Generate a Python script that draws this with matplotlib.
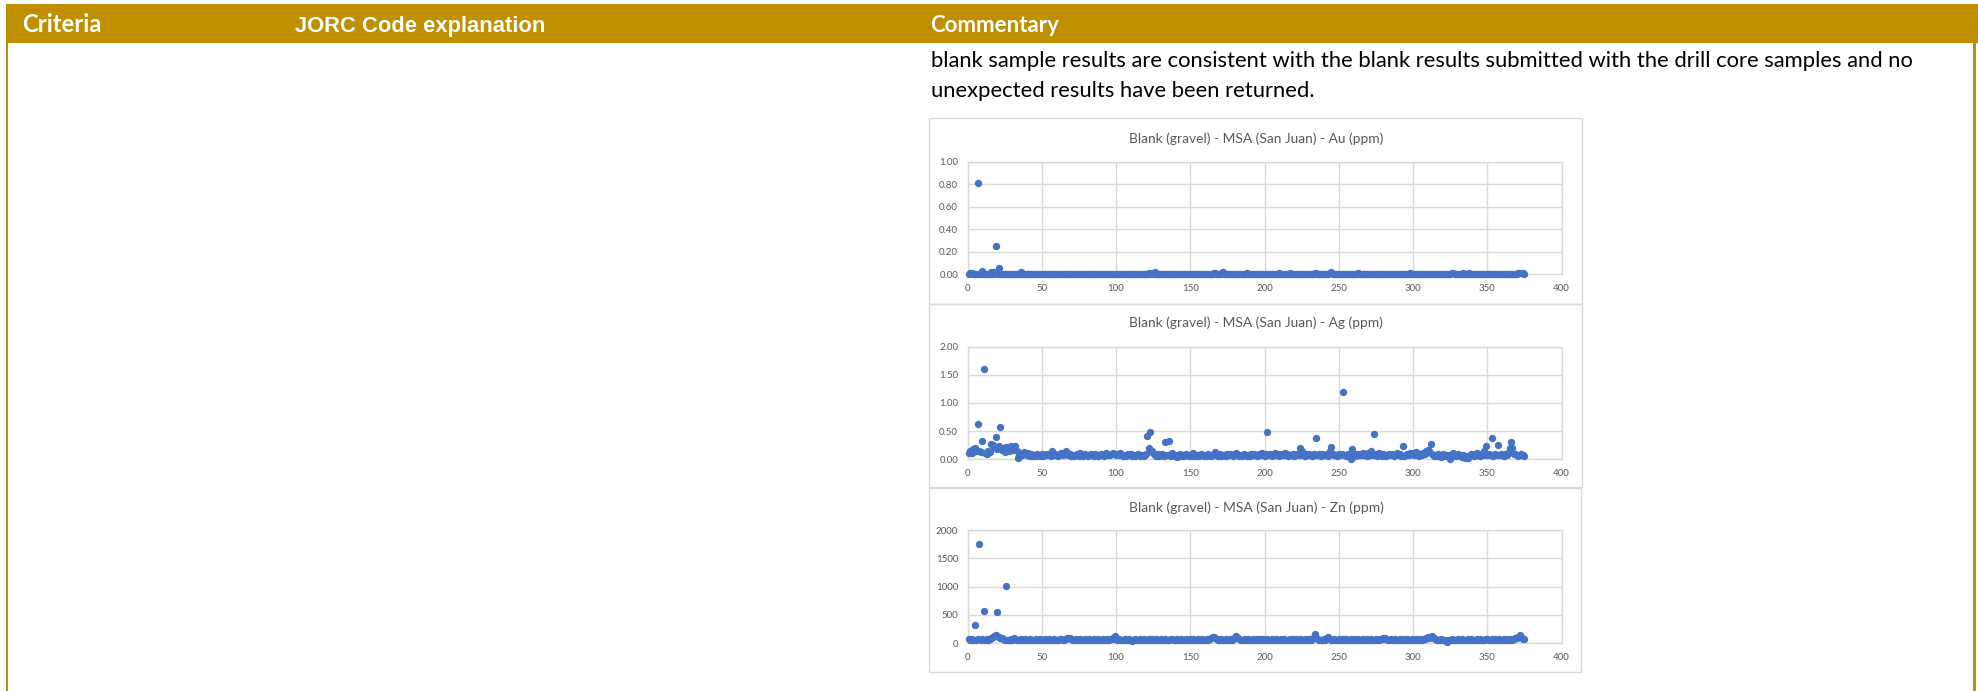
import matplotlib
matplotlib.use("Agg")
import matplotlib.pyplot as plt
from matplotlib.patches import Rectangle

# ---------------- data ----------------
header_labels = ["Criteria", "JORC Code explanation", "Commentary"]
body_lines = [
    "blank sample results are consistent with the blank results submitted with the drill core samples and no",
    "unexpected results have been returned.",
]
chart_titles = [
    "Blank (gravel) - MSA (San Juan) - Au (ppm)",
    "Blank (gravel) - MSA (San Juan) - Ag (ppm)",
    "Blank (gravel) - MSA (San Juan) - Zn (ppm)",
]
x_ticks = [0, 50, 100, 150, 200, 250, 300, 350, 400]
au_ticks = [0.0, 0.2, 0.4, 0.6, 0.8, 1.0]
au_tick_labels = ["0.00", "0.20", "0.40", "0.60", "0.80", "1.00"]
ag_ticks = [0.0, 0.5, 1.0, 1.5, 2.0]
ag_tick_labels = ["0.00", "0.50", "1.00", "1.50", "2.00"]
zn_ticks = [0, 500, 1000, 1500, 2000]
zn_tick_labels = ["0", "500", "1000", "1500", "2000"]

sample_no = list(range(1, 376))

au_ppm = [
    0.005, 0.01, 0.008, 0.006, 0.003, 0.005, 0.81, 0.004, 0.005, 0.03, 0.004, 0.003, 0.005, 0.004, 0.006, 0.02, 0.005, 0.02, 0.25, 0.005, 0.06, 0.004, 0.003, 0.005, 0.004,
    0.003, 0.005, 0.004, 0.003, 0.005, 0.004, 0.003, 0.005, 0.004, 0.006, 0.02, 0.004, 0.003, 0.005, 0.003, 0.004, 0.005, 0.003, 0.004, 0.005, 0.003, 0.004, 0.003, 0.005, 0.004,
    0.003, 0.004, 0.005, 0.003, 0.004, 0.003, 0.005, 0.004, 0.003, 0.005, 0.004, 0.003, 0.004, 0.005, 0.003, 0.004, 0.003, 0.005, 0.004, 0.003, 0.005, 0.003, 0.004, 0.003, 0.005,
    0.004, 0.003, 0.005, 0.004, 0.003, 0.004, 0.005, 0.003, 0.004, 0.003, 0.005, 0.004, 0.003, 0.005, 0.004, 0.003, 0.004, 0.003, 0.005, 0.004, 0.003, 0.005, 0.003, 0.004, 0.005,
    0.003, 0.004, 0.005, 0.003, 0.004, 0.003, 0.005, 0.004, 0.003, 0.004, 0.005, 0.003, 0.004, 0.003, 0.005, 0.004, 0.003, 0.005, 0.004, 0.003, 0.006, 0.008, 0.005, 0.012, 0.006,
    0.02, 0.005, 0.004, 0.003, 0.005, 0.004, 0.003, 0.004, 0.005, 0.003, 0.004, 0.003, 0.005, 0.004, 0.003, 0.005, 0.004, 0.003, 0.004, 0.005, 0.003, 0.004, 0.003, 0.005, 0.004,
    0.003, 0.005, 0.004, 0.003, 0.004, 0.005, 0.003, 0.004, 0.003, 0.005, 0.004, 0.003, 0.005, 0.004, 0.006, 0.008, 0.015, 0.005, 0.004, 0.006, 0.008, 0.02, 0.005, 0.004, 0.003,
    0.004, 0.005, 0.003, 0.004, 0.003, 0.005, 0.004, 0.003, 0.005, 0.004, 0.003, 0.006, 0.01, 0.004, 0.003, 0.005, 0.004, 0.003, 0.004, 0.005, 0.003, 0.004, 0.003, 0.005, 0.004,
    0.003, 0.005, 0.004, 0.003, 0.004, 0.005, 0.003, 0.004, 0.006, 0.009, 0.004, 0.003, 0.005, 0.004, 0.003, 0.006, 0.008, 0.004, 0.003, 0.005, 0.004, 0.003, 0.004, 0.005, 0.003,
    0.004, 0.003, 0.005, 0.004, 0.003, 0.005, 0.004, 0.006, 0.008, 0.012, 0.005, 0.004, 0.003, 0.005, 0.004, 0.003, 0.004, 0.006, 0.01, 0.022, 0.006, 0.004, 0.003, 0.005, 0.004,
    0.003, 0.005, 0.004, 0.003, 0.004, 0.005, 0.003, 0.004, 0.003, 0.005, 0.004, 0.006, 0.012, 0.004, 0.003, 0.005, 0.004, 0.003, 0.004, 0.005, 0.003, 0.004, 0.003, 0.005, 0.004,
    0.003, 0.005, 0.004, 0.003, 0.004, 0.005, 0.003, 0.004, 0.003, 0.005, 0.004, 0.003, 0.005, 0.004, 0.003, 0.004, 0.005, 0.003, 0.004, 0.003, 0.005, 0.006, 0.012, 0.004, 0.003,
    0.005, 0.004, 0.003, 0.004, 0.005, 0.003, 0.004, 0.003, 0.005, 0.004, 0.003, 0.005, 0.004, 0.003, 0.004, 0.005, 0.003, 0.004, 0.003, 0.005, 0.004, 0.003, 0.005, 0.004, 0.006,
    0.008, 0.012, 0.005, 0.004, 0.003, 0.005, 0.004, 0.006, 0.012, 0.005, 0.004, 0.006, 0.012, 0.005, 0.004, 0.003, 0.005, 0.004, 0.003, 0.004, 0.005, 0.003, 0.004, 0.003, 0.005,
    0.004, 0.003, 0.005, 0.004, 0.003, 0.004, 0.005, 0.003, 0.004, 0.003, 0.005, 0.004, 0.003, 0.005, 0.004, 0.003, 0.004, 0.005, 0.003, 0.006, 0.008, 0.01, 0.012, 0.008, 0.006,
]

ag_ppm = [
    0.12, 0.15, 0.11, 0.18, 0.20, 0.14, 0.63, 0.15, 0.13, 0.33, 1.60, 0.12, 0.10, 0.14, 0.13, 0.27, 0.26, 0.22, 0.40, 0.18, 0.24, 0.57, 0.16, 0.20, 0.13,
    0.22, 0.18, 0.15, 0.24, 0.17, 0.20, 0.23, 0.14, 0.03, 0.05, 0.10, 0.08, 0.13, 0.11, 0.07, 0.12, 0.06, 0.09, 0.05, 0.08, 0.06, 0.10, 0.07, 0.05, 0.09,
    0.06, 0.08, 0.10, 0.07, 0.09, 0.06, 0.15, 0.08, 0.10, 0.07, 0.05, 0.09, 0.11, 0.08, 0.12, 0.14, 0.10, 0.07, 0.09, 0.06, 0.08, 0.05, 0.07, 0.09, 0.06,
    0.12, 0.08, 0.06, 0.09, 0.07, 0.05, 0.08, 0.10, 0.07, 0.06, 0.09, 0.08, 0.05, 0.07, 0.10, 0.08, 0.06, 0.11, 0.09, 0.07, 0.08, 0.10, 0.12, 0.09, 0.07,
    0.10, 0.08, 0.12, 0.07, 0.06, 0.08, 0.05, 0.09, 0.07, 0.10, 0.06, 0.08, 0.05, 0.07, 0.09, 0.06, 0.08, 0.07, 0.05, 0.09, 0.42, 0.20, 0.49, 0.15, 0.12,
    0.08, 0.06, 0.09, 0.05, 0.07, 0.10, 0.06, 0.30, 0.08, 0.07, 0.33, 0.05, 0.12, 0.08, 0.06, 0.04, 0.07, 0.09, 0.05, 0.08, 0.06, 0.10, 0.07, 0.05, 0.08,
    0.06, 0.11, 0.07, 0.05, 0.08, 0.06, 0.09, 0.07, 0.05, 0.08, 0.06, 0.09, 0.07, 0.05, 0.08, 0.10, 0.13, 0.07, 0.06, 0.09, 0.05, 0.08, 0.07, 0.06, 0.09,
    0.07, 0.10, 0.08, 0.06, 0.09, 0.11, 0.07, 0.05, 0.08, 0.06, 0.09, 0.07, 0.05, 0.08, 0.06, 0.09, 0.07, 0.10, 0.08, 0.06, 0.09, 0.07, 0.11, 0.08, 0.06,
    0.09, 0.48, 0.07, 0.10, 0.06, 0.08, 0.11, 0.07, 0.09, 0.06, 0.08, 0.10, 0.07, 0.12, 0.09, 0.06, 0.08, 0.07, 0.10, 0.06, 0.08, 0.09, 0.07, 0.20, 0.15,
    0.08, 0.06, 0.09, 0.07, 0.10, 0.08, 0.06, 0.09, 0.07, 0.37, 0.08, 0.10, 0.06, 0.09, 0.07, 0.08, 0.10, 0.06, 0.15, 0.22, 0.09, 0.07, 0.08, 0.06, 0.10,
    0.07, 0.09, 1.19, 0.08, 0.06, 0.10, 0.07, 0.01, 0.18, 0.08, 0.06, 0.09, 0.07, 0.10, 0.08, 0.11, 0.07, 0.09, 0.06, 0.12, 0.08, 0.15, 0.07, 0.45, 0.09,
    0.06, 0.11, 0.08, 0.05, 0.09, 0.07, 0.06, 0.08, 0.10, 0.07, 0.09, 0.06, 0.08, 0.11, 0.07, 0.09, 0.06, 0.24, 0.05, 0.08, 0.10, 0.07, 0.12, 0.09, 0.11,
    0.08, 0.13, 0.07, 0.06, 0.09, 0.08, 0.12, 0.10, 0.15, 0.16, 0.14, 0.28, 0.09, 0.05, 0.08, 0.06, 0.10, 0.07, 0.04, 0.09, 0.06, 0.08, 0.05, 0.07, 0.00,
    0.06, 0.12, 0.08, 0.05, 0.10, 0.07, 0.06, 0.04, 0.08, 0.03, 0.05, 0.02, 0.06, 0.09, 0.07, 0.05, 0.10, 0.12, 0.08, 0.06, 0.09, 0.07, 0.15, 0.24, 0.08,
    0.10, 0.07, 0.38, 0.06, 0.09, 0.08, 0.25, 0.07, 0.10, 0.08, 0.06, 0.09, 0.07, 0.12, 0.20, 0.30, 0.20, 0.09, 0.10, 0.07, 0.06, 0.08, 0.10, 0.07, 0.06,
]

zn_ppm = [
    75, 60, 70, 55, 320, 65, 80, 1760, 60, 75, 570, 55, 70, 60, 80, 90, 110, 130, 150, 560, 120, 100, 85, 70, 60,
    1010, 55, 65, 70, 60, 90, 75, 55, 65, 60, 70, 55, 65, 75, 60, 55, 70, 60, 65, 55, 70, 60, 65, 75, 55,
    60, 70, 55, 65, 75, 60, 55, 70, 60, 65, 55, 70, 75, 60, 65, 80, 90, 100, 95, 75, 65, 55, 70, 60, 65,
    75, 60, 55, 70, 65, 60, 75, 55, 65, 70, 60, 55, 75, 65, 60, 70, 55, 65, 75, 60, 70, 80, 95, 130, 75,
    60, 70, 55, 65, 60, 75, 55, 65, 70, 60, 45, 65, 70, 60, 55, 75, 65, 60, 70, 55, 65, 80, 60, 70, 55,
    65, 70, 60, 55, 75, 65, 60, 70, 55, 65, 60, 75, 80, 65, 55, 70, 60, 65, 75, 55, 60, 70, 65, 55, 70,
    60, 75, 65, 55, 70, 60, 65, 75, 55, 60, 70, 65, 80, 95, 110, 120, 90, 70, 60, 55, 70, 65, 60, 75, 55,
    65, 70, 60, 80, 110, 130, 95, 70, 60, 55, 65, 70, 60, 75, 55, 65, 70, 60, 55, 75, 65, 70, 60, 80, 65,
    55, 70, 60, 65, 75, 55, 60, 70, 65, 55, 75, 60, 70, 65, 55, 60, 75, 65, 70, 60, 80, 65, 55, 70, 60,
    65, 75, 55, 60, 70, 65, 80, 110, 160, 90, 70, 60, 55, 65, 70, 60, 85, 110, 80, 65, 55, 70, 60, 65, 75,
    55, 60, 70, 65, 75, 60, 55, 70, 65, 80, 60, 55, 70, 65, 60, 75, 55, 65, 70, 60, 55, 75, 65, 60, 70,
    55, 65, 75, 80, 90, 100, 75, 60, 55, 70, 65, 60, 75, 55, 65, 70, 60, 80, 65, 55, 70, 60, 65, 75, 55,
    60, 70, 65, 55, 75, 60, 70, 80, 95, 110, 100, 120, 130, 90, 70, 60, 55, 65, 70, 60, 50, 55, 15, 60, 65,
    70, 55, 60, 65, 75, 55, 60, 70, 65, 55, 60, 75, 65, 70, 60, 55, 65, 75, 60, 70, 55, 65, 60, 70, 80,
    65, 55, 70, 60, 75, 65, 55, 70, 60, 65, 75, 55, 60, 70, 65, 80, 60, 75, 90, 100, 120, 150, 110, 80, 70,
]

# ---------------- layout ----------------
W, H = 1978, 691
GOLD = "#BF8F00"
BLUE = "#4472C4"
GRID = "#D9D9D9"
TXT = "#595959"

fig = plt.figure(figsize=(W / 100, H / 100), dpi=100)
fig.patch.set_facecolor("white")
renderer = fig.canvas.get_renderer()


def fx(px):
    return px / W


def fy(py):
    return 1 - py / H


def rect_px(x0, y0, x1, y1, **kw):
    fig.add_artist(Rectangle((fx(x0), fy(y1)), (x1 - x0) / W, (y1 - y0) / H,
                             transform=fig.transFigure, **kw))


def fitted_text(s, x, y, width, size0=12, ha="left", va="baseline", **kw):
    t = fig.text(fx(x), fy(y), s, fontsize=size0, ha=ha, va=va, **kw)
    w = t.get_window_extent(renderer).width
    t.set_fontsize(size0 * width / w)
    return t


# header bar and table borders
rect_px(6, 4, 1978, 43, facecolor=GOLD, edgecolor="none")
rect_px(6, 43, 8, 691, facecolor=GOLD, edgecolor="none")
rect_px(1973, 43, 1976, 691, facecolor=GOLD, edgecolor="none")

fitted_text(header_labels[0], 22, 32, 79, family="Lato", weight="bold", color="white")
fitted_text(header_labels[1], 295, 32, 249, family="Liberation Sans", weight="bold", color="white")
fitted_text(header_labels[2], 930, 32, 128, family="Lato", weight="bold", color="white")

t1 = fitted_text(body_lines[0], 931, 66.7, 979, family="Lato", color="black")
fig.text(fx(931), fy(97.0), body_lines[1], fontsize=t1.get_fontsize(), family="Lato",
         color="black", ha="left", va="baseline")

# chart boxes
boxes = [(929, 118, 1582, 303.5), (929, 303.5, 1582, 486.5), (929, 487.5, 1581, 672)]
for b in boxes:
    rect_px(b[0], b[1], b[2], b[3], facecolor="none", edgecolor=GRID, lw=1)

plot_x0, plot_x1 = 967.5, 1561.5
plots = [
    (161.7, 274.3, au_ppm, au_ticks, au_tick_labels, 138.3),
    (346.7, 459.3, ag_ppm, ag_ticks, ag_tick_labels, 323.0),
    (530.0, 643.3, zn_ppm, zn_ticks, zn_tick_labels, 508.0),
]

for i, (top, bot, vals, yt, ytl, title_y) in enumerate(plots):
    ax = fig.add_axes([fx(plot_x0), fy(bot), (plot_x1 - plot_x0) / W, (bot - top) / H])
    ax.set_xlim(0, 400)
    ax.set_ylim(yt[0], yt[-1])
    ax.set_xticks(x_ticks)
    ax.set_xticklabels([str(v) for v in x_ticks])
    ax.set_yticks(yt)
    ax.set_yticklabels(ytl)
    ax.grid(True, color=GRID, lw=1)
    ax.set_axisbelow(True)
    for sp in ax.spines.values():
        sp.set_color(GRID)
        sp.set_linewidth(1)
    ax.tick_params(length=0, labelsize=7, labelcolor=TXT, labelfontfamily="Lato")
    ax.tick_params(axis="y", pad=6.8)
    ax.tick_params(axis="x", pad=7.0)
    ax.scatter(sample_no, vals, s=28, c=BLUE, linewidths=0, clip_on=False, zorder=3)
    fitted_text(chart_titles[i], 1256, title_y, 253, ha="center", va="center",
                family="Lato", color=TXT)

fig.savefig("out.png", dpi=100, facecolor="white")
